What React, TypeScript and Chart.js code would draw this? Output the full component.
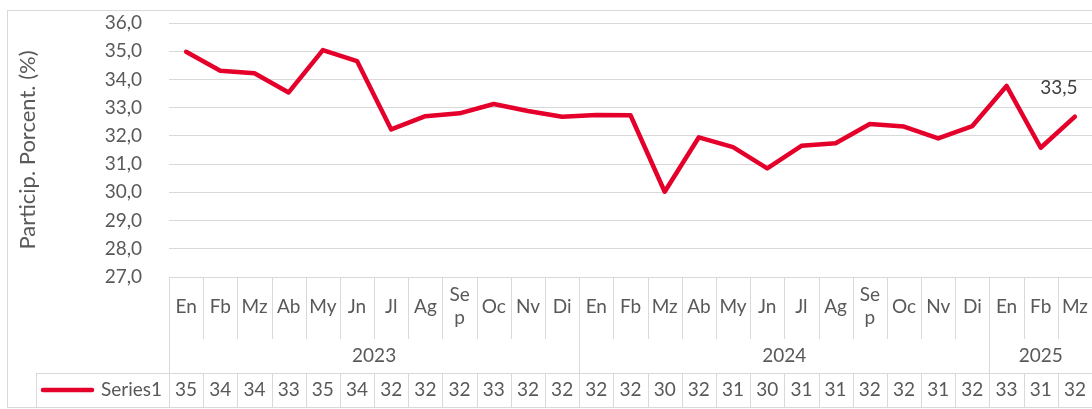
import React, { useEffect, useRef } from 'react';
import { Chart, registerables } from 'chart.js';

Chart.register(...registerables);

const months: (string | string[])[] = [
  'En', 'Fb', 'Mz', 'Ab', 'My', 'Jn', 'Jl', 'Ag', ['Se', 'p'], 'Oc', 'Nv', 'Di',
  'En', 'Fb', 'Mz', 'Ab', 'My', 'Jn', 'Jl', 'Ag', ['Se', 'p'], 'Oc', 'Nv', 'Di',
  'En', 'Fb', 'Mz',
];
const yearLabels = ['2023', '2024', '2025'];
const yearSpans = [12, 12, 3];
const seriesName = 'Series1';
const values = [
  34.98, 34.31, 34.22, 33.54, 35.04, 34.65, 32.23, 32.70, 32.80, 33.13, 32.88, 32.68,
  32.74, 32.73, 30.02, 31.95, 31.60, 30.85, 31.65, 31.74, 32.42, 32.33, 31.91, 32.35,
  33.77, 31.58, 32.68,
];
const tableValues = [
  '35', '34', '34', '33', '35', '34', '32', '32', '32', '33', '32', '32',
  '32', '32', '30', '32', '31', '30', '31', '31', '32', '32', '31', '32',
  '33', '31', '32',
];
const lastPointLabel = '33,5';
const yMin = 27;
const yMax = 36;
const yStep = 1;
const yTitle = 'Particip. Porcent. (%)';

const FONT = 'Lato, "Open Sans", sans-serif';
const FONT_SIZE = 19;
const TITLE_SIZE = 22;
const TEXT = '#595959';
const GRID = '#d9d9d9';
const RED = '#E4002B';

const W = 1092;
const H = 409;

const tablePlugin = {
  id: 'dataTable',
  afterDraw(chart: any) {
    const { ctx, chartArea } = chart;
    const xs = chart.scales.x;
    const n = months.length;
    const colW = (chartArea.right - chartArea.left) / n;
    const edge = (i: number) => xs.getPixelForValue(0) - colW / 2 + i * colW;
    const top = Math.round(chartArea.bottom);
    const catBottom = 339;
    const yearBottom = 373;
    const tableBottom = 407;
    const legendLeft = 36;

    ctx.save();
    ctx.strokeStyle = GRID;
    ctx.lineWidth = 1;
    const hLine = (x1: number, x2: number, y: number) => {
      ctx.beginPath();
      ctx.moveTo(x1, y + 0.5);
      ctx.lineTo(x2, y + 0.5);
      ctx.stroke();
    };
    const vLine = (x: number, y1: number, y2: number) => {
      const xx = Math.round(x) + 0.5;
      ctx.beginPath();
      ctx.moveTo(xx, y1);
      ctx.lineTo(xx, y2);
      ctx.stroke();
    };

    // outer frame
    hLine(7, W, 10);
    vLine(7, 10, tableBottom + 1);
    hLine(7, W, tableBottom);

    // table lines
    hLine(edge(0), W, top);
    hLine(legendLeft, W, yearBottom);
    const yearEdges = [0];
    yearSpans.forEach((s) => yearEdges.push(yearEdges[yearEdges.length - 1] + s));
    for (let i = 0; i <= n; i++) {
      const isYearEdge = yearEdges.includes(i);
      vLine(edge(i), top, isYearEdge ? yearBottom : catBottom);
      vLine(edge(i), yearBottom, tableBottom);
    }
    vLine(legendLeft, yearBottom, tableBottom);

    // texts
    ctx.fillStyle = TEXT;
    ctx.font = `${FONT_SIZE}px ${FONT}`;
    ctx.textAlign = 'center';
    ctx.textBaseline = 'middle';
    const catMid = 307;
    months.forEach((m, i) => {
      const cx = xs.getPixelForValue(i);
      if (Array.isArray(m)) {
        ctx.fillText(m[0], cx, catMid - 12);
        ctx.fillText(m[1], cx, catMid + 11);
      } else {
        ctx.fillText(m, cx, catMid);
      }
    });
    yearLabels.forEach((y, k) => {
      const cx = (edge(yearEdges[k]) + edge(yearEdges[k + 1])) / 2;
      ctx.fillText(y, cx, 356);
    });
    const rowMid = 390;
    tableValues.forEach((v, i) => {
      ctx.fillText(v, xs.getPixelForValue(i), rowMid);
    });
    ctx.textAlign = 'right';
    ctx.fillText(seriesName, edge(0) - 7, rowMid);
    // legend line
    ctx.strokeStyle = RED;
    ctx.lineWidth = 4.5;
    ctx.lineCap = 'round';
    ctx.beginPath();
    ctx.moveTo(43, rowMid);
    ctx.lineTo(92, rowMid);
    ctx.stroke();
    ctx.restore();
  },
  afterDatasetsDraw(chart: any) {
    const meta = chart.getDatasetMeta(0);
    const pt = meta.data[meta.data.length - 1];
    if (!pt) return;
    const { ctx } = chart;
    ctx.save();
    ctx.fillStyle = '#404040';
    ctx.font = `${FONT_SIZE}px ${FONT}`;
    ctx.textAlign = 'center';
    ctx.textBaseline = 'middle';
    ctx.fillText(lastPointLabel, pt.x - 16, pt.y - 29);
    ctx.restore();
  },
};

export default function App() {
  const ref = useRef<HTMLCanvasElement | null>(null);
  useEffect(() => {
    if (!ref.current) return;
    const chart = new Chart(ref.current, {
      type: 'line',
      data: {
        labels: months as any,
        datasets: [
          {
            label: seriesName,
            data: values,
            borderColor: RED,
            backgroundColor: RED,
            borderWidth: 4.5,
            pointRadius: 0,
            tension: 0,
            borderJoinStyle: 'round',
            borderCapStyle: 'round',
          },
        ],
      },
      options: {
        animation: false,
        responsive: false,
        devicePixelRatio: 1,
        layout: { padding: { left: 0, right: 0, top: 23, bottom: H - 277 } },
        plugins: { legend: { display: false }, tooltip: { enabled: false } },
        scales: {
          x: { type: 'category', display: false, offset: true },
          y: {
            min: yMin,
            max: yMax,
            border: { display: false },
            grid: {
              color: GRID,
              lineWidth: 1,
              drawTicks: true,
              tickLength: 27,
              tickColor: 'rgba(0,0,0,0)',
            },
            ticks: {
              stepSize: yStep,
              padding: 0,
              color: TEXT,
              font: { family: FONT, size: FONT_SIZE },
              callback: (v: any) => Number(v).toFixed(1).replace('.', ','),
            },
            title: {
              display: true,
              text: yTitle,
              color: TEXT,
              font: { family: FONT, size: TITLE_SIZE },
              padding: { top: 15, bottom: 0 },
            },
            afterFit: (scale: any) => {
              scale.width = 169;
            },
          },
        },
      },
      plugins: [tablePlugin],
    });
    return () => chart.destroy();
  }, []);
  return (
    <div style={{ position: 'fixed', left: 0, top: 0, width: W, height: H, background: '#fff' }}>
      <canvas ref={ref} width={W} height={H} style={{ width: W, height: H, display: 'block' }} />
    </div>
  );
}
